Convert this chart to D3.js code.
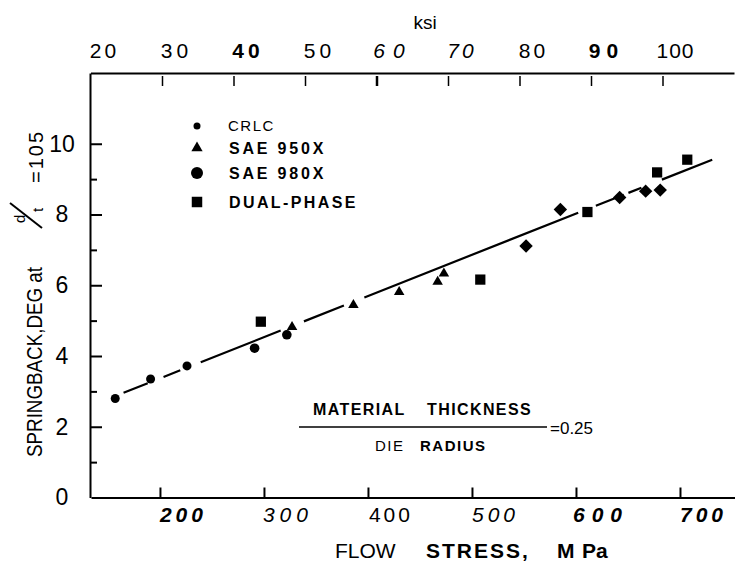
<!DOCTYPE html>
<html>
<head>
<meta charset="utf-8">
<script src="https://cdn.jsdelivr.net/npm/d3@7"></script>
<style>
  body { margin: 0; background: #fff; }
  svg { display: block; font-family: "Liberation Sans", Arial, sans-serif; }
</style>
</head>
<body>
<svg></svg>
<script>
let svgWidth = 735;
let svgHeight = 565;

// tick values
let mpaTicks = [200, 300, 400, 500, 600, 700];
let ksiTicks = [20, 30, 40, 50, 60, 70, 80, 90, 100];
let springTicks = [0, 2, 4, 6, 8, 10];
let springMinor = [1, 3, 5, 7, 9];

// [flow stress MPa, springback deg]
let crlc = [[157, 2.80], [191, 3.35], [226, 3.72]];
let sae980x = [[291, 4.22], [322, 4.60]];
let sae950x = [[327, 4.82], [386, 5.44], [430, 5.81], [467, 6.10], [473, 6.33]];
let dualPhase = [[297, 4.97], [508, 6.16], [611, 8.07], [678, 9.19], [707, 9.55]];
let dualPhaseB = [[552, 7.11], [585, 8.14], [642, 8.48], [667, 8.66], [681, 8.69]];
let trend = [[165, 2.96], [731, 9.55]];

let legendLabels = ["CRLC", "SAE 950X", "SAE 980X", "DUAL-PHASE"];

var svg = d3.select("svg")
  .attr("width", svgWidth)
  .attr("height", svgHeight);

let xScale = d3.scaleLinear().domain([133.7, 752.9]).range([91, 735]);
let yScale = d3.scaleLinear().domain([0, 12]).range([497.5, 73]);
let ksiScale = d3.scaleLinear().domain([20, 110]).range([90.5, 734]);

// font quirks of the scanned tick labels: weight, style, letter spacing
let topStyle = {
  20: ["normal", "normal", 3], 30: ["normal", "normal", 4], 40: ["bold", "normal", 4],
  50: ["normal", "normal", 4], 60: ["normal", "italic", 8], 70: ["normal", "italic", 3],
  80: ["normal", "normal", 3], 90: ["bold", "normal", 6], 100: ["normal", "normal", 1]
};
let bottomStyle = {
  200: ["bold", "italic", 4], 300: ["normal", "italic", 5], 400: ["normal", "normal", 3],
  500: ["normal", "italic", 4], 600: ["bold", "italic", 7], 700: ["bold", "italic", 4]
};

function styleAxis(g) {
  g.select(".domain").attr("stroke-width", 2).attr("stroke", "#000");
  g.selectAll(".tick line").attr("stroke-width", 2).attr("stroke", "#000");
  g.selectAll(".tick text").attr("fill", "#000");
}

// bottom axis
let xAxisG = svg.append("g")
  .attr("transform", `translate(0, ${yScale(0)})`)
  .call(d3.axisBottom(xScale).tickValues(mpaTicks).tickSize(-10).tickSizeOuter(0).tickPadding(10))
  .call(styleAxis);
xAxisG.selectAll(".tick text")
  .attr("x", d => 21 + bottomStyle[d][2] / 2)
  .attr("font-size", 21)
  .attr("font-weight", d => bottomStyle[d][0])
  .attr("font-style", d => bottomStyle[d][1])
  .attr("letter-spacing", d => bottomStyle[d][2]);

// top axis (ksi)
let topAxisG = svg.append("g")
  .attr("transform", `translate(0, ${yScale(12)})`)
  .call(d3.axisTop(ksiScale).tickValues(ksiTicks).tickSize(0).tickSizeOuter(0).tickPadding(15))
  .call(styleAxis);
topAxisG.selectAll(".tick text")
  .attr("x", d => 12 + topStyle[d][2] / 2)
  .attr("font-size", 21)
  .attr("font-weight", d => topStyle[d][0])
  .attr("font-style", d => topStyle[d][1])
  .attr("letter-spacing", d => topStyle[d][2]);
topAxisG.selectAll(".tick")
  .filter(d => d > 20)
  .append("line")
  .attr("y1", 3).attr("y2", 13)
  .attr("stroke", "#000")
  .attr("stroke-width", d => d == 60 ? 2.5 : 1.5);

// left axis
let yAxisG = svg.append("g")
  .attr("transform", `translate(${xScale(133.7) - 1}, 0)`)
  .call(d3.axisLeft(yScale).tickValues(springTicks).tickSize(-12).tickSizeOuter(0).tickPadding(0))
  .call(styleAxis);
yAxisG.selectAll(".tick text")
  .attr("x", -28)
  .attr("text-anchor", "middle")
  .attr("font-size", 23);
yAxisG.selectAll(".tick").filter(d => d == 0).select("line").remove();
svg.append("g")
  .attr("transform", `translate(${xScale(133.7) - 1}, 0)`)
  .call(d3.axisLeft(yScale).tickValues(springMinor).tickSize(-7).tickFormat(""))
  .call(g => g.select(".domain").remove())
  .call(styleAxis);

// Axes labels
svg.append("text")
  .text("ksi")
  .attr("x", 425)
  .attr("y", 29)
  .attr("font-size", 19)
  .attr("text-anchor", "middle");

let xTitle = svg.append("text")
  .attr("x", 335)
  .attr("y", 558)
  .attr("font-size", 21);
xTitle.append("tspan").text("FLOW");
xTitle.append("tspan").attr("x", 426).attr("font-weight", "bold").attr("letter-spacing", 2).text("STRESS,");
xTitle.append("tspan").attr("x", 557).attr("font-weight", "bold").text("M");
xTitle.append("tspan").attr("x", 582).attr("font-weight", "bold").text("Pa");

// Y axis
let yTitle = svg.append("g").attr("transform", "rotate(-90)");
yTitle.append("text")
  .text("SPRINGBACK,DEG at")
  .attr("x", -457)
  .attr("y", 42)
  .attr("font-size", 22)
  .attr("textLength", 190)
  .attr("lengthAdjust", "spacingAndGlyphs");
yTitle.append("text").text("d").attr("x", -223).attr("y", 25).attr("font-size", 15);
yTitle.append("text").text("t").attr("x", -212).attr("y", 43).attr("font-size", 15);
yTitle.append("line")
  .attr("x1", -228).attr("y1", 42)
  .attr("x2", -203).attr("y2", 10)
  .attr("stroke", "#000").attr("stroke-width", 2);
yTitle.append("text")
  .text("=105")
  .attr("x", -183)
  .attr("y", 43)
  .attr("font-size", 20)
  .attr("letter-spacing", 2);

// trend line
svg.append("path")
  .datum(trend)
  .attr("d", d3.line().x(d => xScale(d[0])).y(d => yScale(d[1])))
  .attr("fill", "none")
  .attr("stroke", "#000")
  .attr("stroke-width", 2.2)
  .attr("stroke-dasharray", "26 17 18 22 86 25 43 22 230 19 30 5 14 22 60");

// points
let sym = (type, size) => d3.symbol().type(type).size(size)();
svg.selectAll(".crlc").data(crlc).enter().append("circle")
  .attr("cx", d => xScale(d[0])).attr("cy", d => yScale(d[1])).attr("r", 4.5);
svg.selectAll(".s980").data(sae980x).enter().append("circle")
  .attr("cx", d => xScale(d[0])).attr("cy", d => yScale(d[1])).attr("r", 4.8);
svg.selectAll(".s950").data(sae950x).enter().append("path")
  .attr("d", sym(d3.symbolTriangle, 48))
  .attr("transform", d => `translate(${xScale(d[0])}, ${yScale(d[1])})`);
svg.selectAll(".dp").data(dualPhase).enter().append("path")
  .attr("d", sym(d3.symbolSquare, 105))
  .attr("transform", d => `translate(${xScale(d[0])}, ${yScale(d[1])})`);
svg.selectAll(".dpb").data(dualPhaseB).enter().append("path")
  .attr("d", sym(d3.symbolSquare, 90))
  .attr("transform", d => `translate(${xScale(d[0])}, ${yScale(d[1])}) rotate(45)`);

// legend
let legendY = [126, 148, 173, 202];
let legendMark = [
  g => g.append("circle").attr("r", 3.5),
  g => g.append("path").attr("d", sym(d3.symbolTriangle, 55)),
  g => g.append("circle").attr("r", 6),
  g => g.append("path").attr("d", sym(d3.symbolSquare, 110))
];
legendLabels.forEach((name, i) => {
  let g = svg.append("g").attr("transform", `translate(197, ${legendY[i]})`);
  legendMark[i](g);
  g.append("text")
    .text(name)
    .attr("x", i == 0 ? 31 : 32)
    .attr("dy", "0.36em")
    .attr("font-size", i == 0 ? 15 : 16)
    .attr("font-weight", i == 0 ? "normal" : "bold")
    .attr("letter-spacing", i == 0 ? 1.5 : (i == 3 ? 2.4 : 2.8));
});

// thickness / radius note
svg.append("text")
  .attr("x", 313).attr("y", 415)
  .attr("font-size", 16).attr("font-weight", "bold").attr("letter-spacing", 1.4)
  .text("MATERIAL")
  .append("tspan").attr("x", 427).text("THICKNESS");
svg.append("line")
  .attr("x1", 299).attr("x2", 547)
  .attr("y1", 427).attr("y2", 427)
  .attr("stroke", "#000").attr("stroke-width", 1.5);
svg.append("text")
  .attr("x", 375).attr("y", 451)
  .attr("font-size", 15).attr("letter-spacing", 1.5)
  .text("DIE")
  .append("tspan").attr("x", 420).attr("font-weight", "bold").text("RADIUS");
svg.append("text")
  .attr("x", 550).attr("y", 434)
  .attr("font-size", 17)
  .text("=0.25");
</script>
</body>
</html>
